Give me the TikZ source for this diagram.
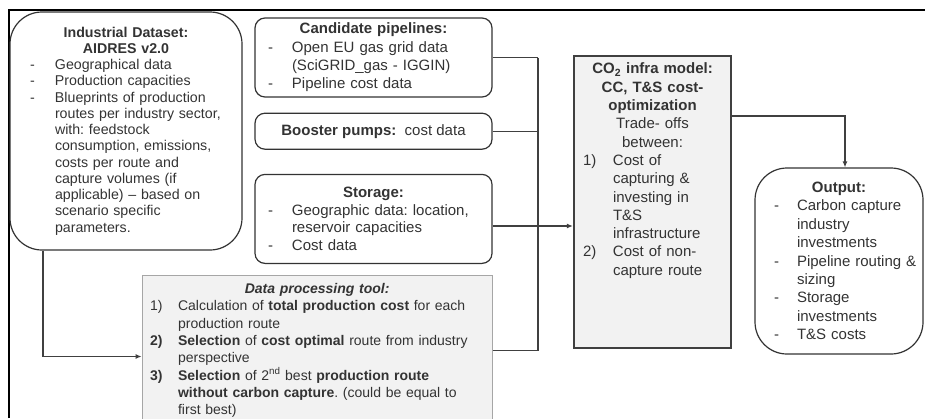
\documentclass[tikz,border=0pt]{standalone}
\usepackage{fontspec}
\setmainfont{Liberation Sans}
\usetikzlibrary{arrows.meta, positioning}
\usepackage{xcolor}
\definecolor{ink}{HTML}{333333}
\definecolor{linegray}{HTML}{404040}
\definecolor{boxfill}{HTML}{F2F2F2}
\definecolor{toolframe}{HTML}{A6A6A6}
\newcommand{\mk}[2][24pt]{\makebox[#1][l]{#2}}
\newcommand{\ind}[1][24pt]{\hspace*{#1}}

\begin{document}
\begin{tikzpicture}[
  x=1pt, y=-1pt,
  font=\fontsize{15}{18.3}\selectfont\frenchspacing, text=ink,
  rbox/.style={draw=ink, line width=1.2pt, rounded corners=10pt, align=left, inner sep=0pt},
  bigbox/.style={rbox, rounded corners=32pt},
  toolbox/.style={draw=toolframe, fill=boxfill, line width=1pt, align=left, inner sep=0pt},
  modelbox/.style={draw=linegray, fill=boxfill, line width=2.2pt},
  line/.style={draw=linegray, line width=1.4pt},
  arrow/.style={line, -{Latex[length=6pt, width=5pt]}}
]
\useasboundingbox (0,0) rectangle (925,418);
\clip (0,0) rectangle (925,418);

\draw[line width=1.2pt, black] (9,418) -- (9,10) -- (925,10);

\node[bigbox, font=\fontsize{14.2}{16.25}\selectfont\frenchspacing, text width=192pt, minimum width=232pt, minimum height=238pt] (ind) at (126,131) {
{\centering\bfseries Industrial Dataset:\\AIDRES v2.0\par}
\mk[25pt]{-}Geographical data\\
\mk[25pt]{-}Production capacities\\
\mk[25pt]{-}Blueprints of production\\
\ind[25pt]\mbox{routes per industry sector,}\\
\ind[25pt]with: feedstock\\
\ind[25pt]\mbox{consumption, emissions,}\\
\ind[25pt]costs per route and\\
\ind[25pt]capture volumes (if\\
\ind[25pt]applicable) -- based on\\
\ind[25pt]scenario specific\\
\ind[25pt]parameters.};

\node[rbox, text width=211pt, minimum width=237pt, minimum height=79pt] (cand) at (373.5,57.5) {
{\centering\bfseries Candidate pipelines:\par}
\mk{-}Open EU gas grid data\\
\ind(SciGRID\_gas - IGGIN)\\
\mk{-}Pipeline cost data};
\node[rbox, align=center, minimum width=237pt, minimum height=36pt, below=15pt of cand] (boost) {\textbf{Booster pumps:}\ \ cost data};
\node[rbox, font=\fontsize{15}{17.5}\selectfont\frenchspacing, text width=211pt, minimum width=237pt, minimum height=89pt, below=24pt of boost] (store) {
{\centering\bfseries Storage:\par}
\mk{-}\mbox{Geographic data: location,}\\
\ind reservoir capacities\\
\mk{-}Cost data};

\node[toolbox, font=\fontsize{14}{17.3}\selectfont\frenchspacing, text width=334pt, minimum width=350pt, minimum height=150pt, below=11pt of store.south east, anchor=north east] (proc) {
{\centering\bfseries\itshape Data processing tool:\par}
\mk[28pt]{1)}\mbox{Calculation of \textbf{total production cost} for each}\\
\ind[28pt]production route\\
\mk[28pt]{\textbf{2)}}\mbox{\textbf{Selection} of \textbf{cost optimal} route from industry}\\
\ind[28pt]perspective\\
\mk[28pt]{\textbf{3)}}\textbf{Selection} of 2\textsuperscript{nd} best \textbf{production route}\\
\ind[28pt]\mbox{\textbf{without carbon capture}. (could be equal to}\\
\ind[28pt]first best)};

\node[modelbox, minimum width=157pt, minimum height=292pt] (co2) at (652.5,202) {};
\node[anchor=north, align=left, text width=139pt, inner sep=0pt] (co2txt) at ([yshift=-8pt]co2.north) {
{\centering\bfseries CO\textsubscript{2} infra model:\\CC, T\&S cost-\\optimization\par}
{\centering Trade- offs\\between:\par}
\mk[30pt]{1)}Cost of\\
\ind[30pt]capturing \&\\
\ind[30pt]investing in\\
\ind[30pt]T\&S\\
\ind[30pt]infrastructure\\
\mk[30pt]{2)}Cost of non-\\
\ind[30pt]capture route};

\node[bigbox, font=\fontsize{15}{18.4}\selectfont\frenchspacing, text width=130pt, minimum width=168pt, minimum height=186pt] (out) at (839,261) {
{\centering\bfseries Output:\par}
\mk[23pt]{-}Carbon capture\\
\ind[23pt]industry\\
\ind[23pt]investments\\
\mk[23pt]{-}\mbox{Pipeline routing \&}\\
\ind[23pt]sizing\\
\mk[23pt]{-}Storage\\
\ind[23pt]investments\\
\mk[23pt]{-}T\&S costs};

\coordinate (bus) at (538,226);
\draw[line] (cand.east) -- (cand.east -| bus);
\draw[line] (boost.east) -- (boost.east -| bus);
\draw[line] (store.east |- bus) -- (bus);
\draw[line] (proc.east) -- (proc.east -| bus);
\draw[line] (cand.east -| bus) -- (proc.east -| bus);
\draw[arrow] (bus) -- (bus -| co2.west);
\draw[arrow] ([xshift=-83pt]ind.south) |- ([yshift=-6pt]proc.west);
\draw[arrow] ([yshift=86pt]co2.east) -| ([xshift=6pt]out.north);

\end{tikzpicture}
\end{document}
